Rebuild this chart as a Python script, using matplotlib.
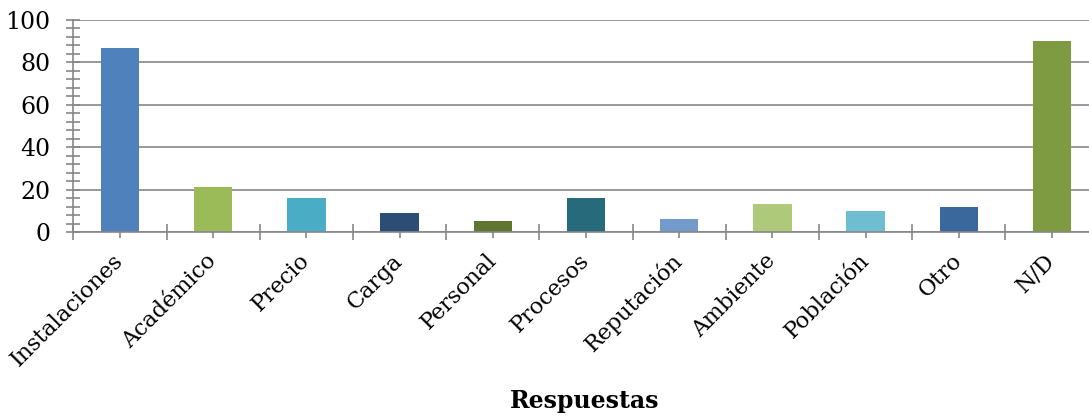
import matplotlib
matplotlib.use("Agg")
import matplotlib.pyplot as plt
from matplotlib.ticker import MultipleLocator, FixedLocator
import numpy as np

categories = ["Instalaciones", "Académico", "Precio", "Carga", "Personal", "Procesos",
              "Reputación", "Ambiente", "Población", "Otro", "N/D"]
values = [87, 21, 16, 9, 5, 16, 6, 13, 10, 12, 90]
colors = ["#4F81BD", "#9BBB59", "#4BACC6", "#2C4D75", "#5F7530", "#276A7C",
          "#729ACA", "#AFC97A", "#6FBDD1", "#3A679C", "#7E9B41"]
x_title = "Respuestas"

grid_color = "#878787"
plt.rcParams["font.family"] = ["DejaVu Serif"]

fig = plt.figure(figsize=(10.89, 4.19), dpi=100)
ax = fig.add_axes([73.4 / 1089, 1 - 232 / 419, (1098.6 - 73.4) / 1089, 212 / 419])

x = np.arange(len(categories))
ax.bar(x, values, width=0.41, color=colors, zorder=3)

ax.set_xlim(-0.5, len(categories) - 0.5)
ax.set_ylim(0, 100)

# y axis: major every 20 with gridlines, minor every 4
ax.yaxis.set_major_locator(MultipleLocator(20))
ax.yaxis.set_minor_locator(MultipleLocator(4))
ax.grid(axis="y", which="major", color=grid_color, linewidth=1.2, zorder=0)

# x axis: long ticks at category boundaries, shorter ticks at centers
ax.xaxis.set_major_locator(FixedLocator(np.arange(-0.5, len(categories), 1.0)))
ax.set_xticklabels([""] * (len(categories) + 1))
ax.set_xticks(x, minor=True)
ax.set_xticklabels(categories, minor=True, rotation=45, ha="right", va="center",
                   rotation_mode="anchor", fontsize=16)

ax.tick_params(axis="y", which="both", direction="inout", length=9.5, width=1.2,
               color=grid_color, labelsize=17, pad=12)
ax.tick_params(axis="x", which="major", direction="inout", length=11.5, width=1.2,
               color=grid_color)
ax.tick_params(axis="x", which="minor", direction="inout", length=8.6, width=1.2,
               color=grid_color, pad=14)

for side in ("top", "right"):
    ax.spines[side].set_visible(False)
for side in ("left", "bottom"):
    ax.spines[side].set_color(grid_color)
    ax.spines[side].set_linewidth(1.2)
ax.spines["bottom"].set_zorder(4)

ax.set_xlabel(x_title, fontsize=17, fontweight="bold")
ax.xaxis.set_label_coords((585 - 73.4) / (1098.6 - 73.4), (232 - 401) / 212)
ax.xaxis.label.set_va("center")

fig.savefig("out.png", dpi=100)
